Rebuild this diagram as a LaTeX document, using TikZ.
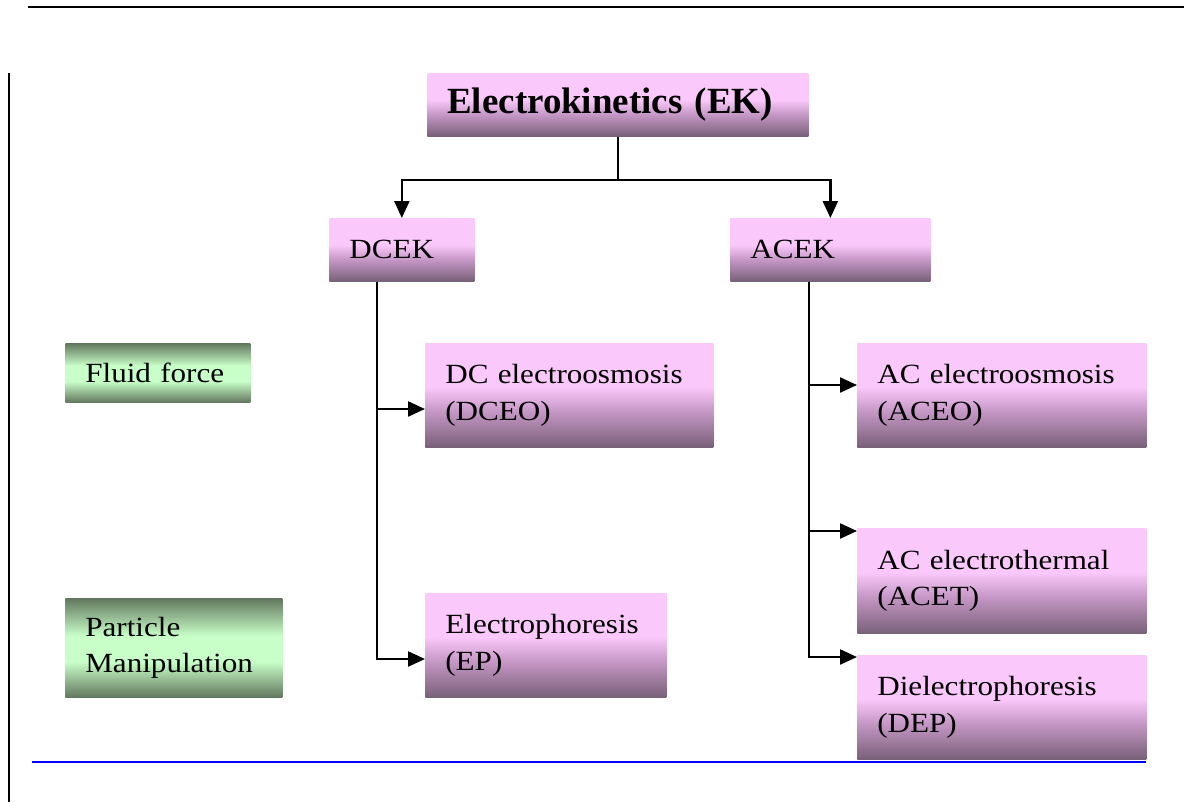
\documentclass[tikz,border=0pt]{standalone}
\usepackage{fontspec}
\setmainfont{Liberation Serif}
\newfontfamily\boxfont{Liberation Serif}[FakeStretch=1.12]
\usetikzlibrary{arrows.meta}

\definecolor{pklight}{RGB}{250,200,250}
\definecolor{pkmid}{RGB}{196,150,196}
\definecolor{pkdark}{RGB}{120,96,120}
\definecolor{gnlight}{RGB}{200,255,200}
\definecolor{gndark}{RGB}{98,120,94}

\pgfdeclareverticalshading{pinkfade}{100bp}{color(0bp)=(pkdark); color(25bp)=(pkdark); color(42bp)=(pkmid); color(54bp)=(pklight); color(100bp)=(pklight)}
\pgfdeclareverticalshading{greenfade}{100bp}{color(0bp)=(gndark); color(25bp)=(gndark); color(43bp)=(gnlight); color(56bp)=(gnlight); color(75bp)=(gndark); color(100bp)=(gndark)}

\tikzset{
	box/.style={anchor=north west, inner xsep=0.4cm, inner ysep=0pt, align=left,
		font=\boxfont\fontsize{15.8}{21}\selectfont},
	pinkbox/.style={box, shade, shading=pinkfade},
	greenbox/.style={box, shade, shading=greenfade},
	trunk/.style={line width=1.3pt},
	link/.style={trunk, -{Triangle[length=0.34cm,width=0.3cm]}},
}

\begin{document}
\begin{tikzpicture}
	\useasboundingbox (0,0) rectangle (23.68,-16.04);

		%page rules
	\draw[line width=1.3pt] (0.56,-0.14) -- (23.68,-0.14);
	\draw[line width=1.3pt] (0.18,-1.46) -- (0.18,-16.04);

	\node[pinkbox, text width=6.82cm, minimum height=1.26cm,
		font=\fontsize{21}{25}\selectfont\bfseries] (ek) at (8.54,-1.46) {Electrokinetics (EK)};
	\node[pinkbox, text width=2.1cm, minimum height=1.26cm] (dcek) at (6.58,-4.36) {DCEK};
	\node[pinkbox, text width=3.2cm, minimum height=1.26cm] (acek) at (14.6,-4.36) {ACEK};

	\node[greenbox, text width=2.9cm, minimum height=1.18cm] (fluid) at (1.3,-6.86) {Fluid force};
	\node[greenbox, text width=3.54cm, minimum height=1.98cm] (particle) at (1.3,-11.96) {Particle\\Manipulation};

	\node[pinkbox, text width=4.96cm, minimum height=2.08cm] (dceo) at (8.5,-6.86) {DC electroosmosis\\(DCEO)};
	\node[pinkbox, text width=4.02cm, minimum height=2.08cm] (ep) at (8.5,-11.86) {Electrophoresis\\(EP)};
	\node[pinkbox, text width=4.98cm, minimum height=2.08cm] (aceo) at (17.14,-6.86) {AC electroosmosis\\(ACEO)};
	\node[pinkbox, text width=4.98cm, minimum height=2.1cm] (acet) at (17.14,-10.56) {AC electrothermal\\(ACET)};
	\node[pinkbox, text width=4.98cm, minimum height=2.08cm] (dep) at (17.14,-13.1) {Dielectrophoresis\\(DEP)};

		%split from the top box
	\coordinate (split) at ([yshift=-0.86cm]ek.south);
	\draw[trunk] (ek.south) -- (split);
	\draw[link] (split) -| (dcek.north);
	\draw[link] (split) -| (acek.north);

		%DC side
	\coordinate (dctop) at ([xshift=0.96cm]dcek.south west);
	\draw[link] (dctop) |- ([yshift=-1.32cm]dceo.north west);
	\draw[link] (dctop) |- ([yshift=-1.32cm]ep.north west);

		%AC side
	\coordinate (actop) at ([xshift=1.58cm]acek.south west);
	\draw[link] (actop) |- ([yshift=-0.84cm]aceo.north west);
	\draw[link] (actop) |- ([yshift=-0.06cm]acet.north west);
	\draw[link] (actop) |- ([yshift=-0.04cm]dep.north west);

	\draw[blue, line width=1.6pt] (0.64,-15.24) -- (22.92,-15.24);
\end{tikzpicture}
\end{document}
